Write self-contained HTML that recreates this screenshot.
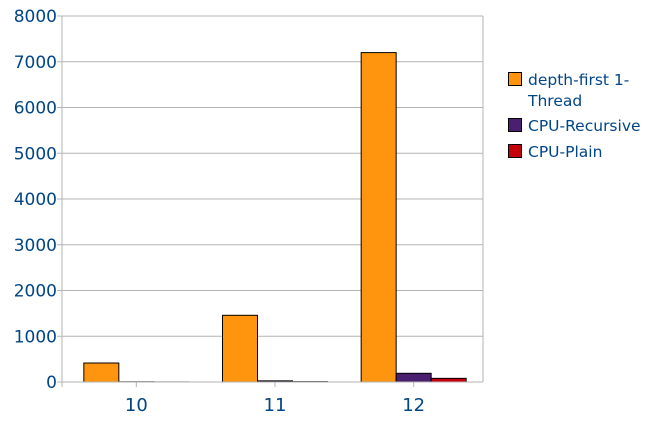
<!DOCTYPE html>
<html><head><meta charset="utf-8"><style>
body{margin:0;background:#fff;}
svg text{font-family:"DejaVu Sans","Liberation Sans",sans-serif;fill:#004586;}
</style></head><body>
<svg width="668" height="421">
<g id="grid"></g><g id="bars"></g><g id="axes"></g><g id="legend"></g>
</svg>
<script>
const categories=["10","11","12"];
const seriesNames=["depth-first 1-Thread","CPU-Recursive","CPU-Plain"];
const depthFirst=[415,1458,7200];
const cpuRecursive=[5,25,190];
const cpuPlain=[2,8,80];
const yTicks=[0,1000,2000,3000,4000,5000,6000,7000,8000];
const colors=["#ff950e","#4b1f6f","#c5000b"];
const NS="http://www.w3.org/2000/svg";
const L=62,R=483,T=16,B=382,yMax=8000,CL=67;
const y=v=>B-(v/yMax)*(B-T);
const catW=(R-CL)/categories.length;
const x=i=>CL+catW*(i+0.5);
const barW=35;
function mk(t,a,p){const e=document.createElementNS(NS,t);for(const k in a)e.setAttribute(k,a[k]);p.appendChild(e);return e;}
const g=document.getElementById('grid'),bg=document.getElementById('bars'),ax=document.getElementById('axes'),lg=document.getElementById('legend');
yTicks.forEach(v=>{
 const l=mk('line',{x1:L-5,x2:R,y1:y(v),y2:y(v),stroke:'#b3b3b3','stroke-width':1},g);
 
 
 const t=mk('text',{x:57,y:y(v)+6,'text-anchor':'end','font-size':17},ax);
 t.textContent=v;
 
 
});
mk('line',{x1:R,x2:R,y1:T,y2:B,stroke:'#b3b3b3'},g);
mk('line',{x1:L,x2:L,y1:T,y2:B+5,stroke:'#b3b3b3'},g);
const series=[depthFirst,cpuRecursive,cpuPlain];
categories.forEach((c,i)=>{
 series.forEach((s,j)=>{
  const bx=x(i)-1.5*barW+j*barW;
  const r=mk('rect',{x:bx,y:y(s[i]),width:barW,height:B-y(s[i]),fill:colors[j],stroke:'#000','stroke-width':1},bg);
  
  
 });
 mk('line',{x1:x(i),x2:x(i),y1:B,y2:B+5,stroke:'#b3b3b3'},ax);
 const t=mk('text',{x:x(i),y:411,'text-anchor':'middle','font-size':18},ax);
 t.textContent=c;
 
 
});
mk('line',{x1:L,x2:R,y1:B,y2:B,stroke:'#b3b3b3'},ax);
const legY=[72,118,144];
seriesNames.forEach((n,j)=>{
 const r=mk('rect',{x:508.5,y:legY[j]+0.5,width:13,height:13,fill:colors[j],stroke:'#000'},lg);
 
 
 const t=mk('text',{x:528,y:legY[j]+13,'font-size':15.5},lg);
 
 
 if(j===0){t.textContent='depth-first 1-';const t2=mk('text',{x:528,y:legY[j]+34,'font-size':15.5},lg);t2.textContent='Thread';}
 else t.textContent=n;
});
</script>
</body></html>
